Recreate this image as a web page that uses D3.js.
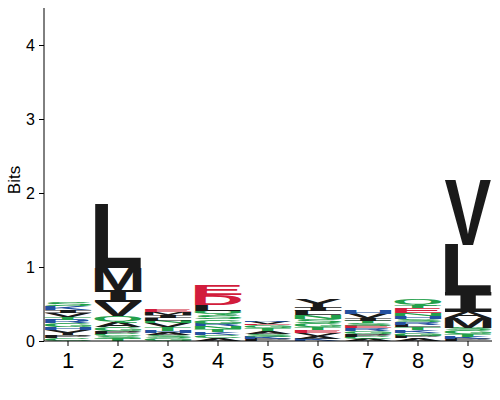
<!DOCTYPE html>
<html><head><meta charset="utf-8">
<script src="https://cdn.jsdelivr.net/npm/d3@7"></script>
<style>body{margin:0;background:#fff}svg{display:block}</style>
</head><body>
<svg id="chart" width="500" height="400"></svg>
<script>
// Sequence logo data: per position, letters listed bottom -> top with their heights (bits)
const positions = [1, 2, 3, 4, 5, 6, 7, 8, 9];
const stackLetters = [
  ["C","P","Y","H","G","R","T","V","I","K","S"],
  ["T","S","C","P","G","A","Q","V","I","M","L"],
  ["G","S","A","H","T","V","N","L","I","M","E"],
  ["A","C","K","T","N","R","G","S","Q","L","D","E"],
  ["P","K","S","A","T","G","E","V","R"],
  ["K","A","V","E","T","G","S","N","L","I","Y"],
  ["A","C","P","G","R","E","S","T","I","V","H"],
  ["A","P","G","K","T","L","R","S","H","N","E","T","Q"],
  ["P","K","T","G","S","M","A","I","L","V"]
];
const stackBits = [
  [0.04,0.04,0.07,0.04,0.05,0.05,0.04,0.05,0.04,0.05,0.06],
  [0.03,0.04,0.03,0.04,0.05,0.06,0.09,0.19,0.16,0.30,0.87],
  [0.04,0.04,0.03,0.03,0.05,0.05,0.03,0.04,0.04,0.04,0.03],
  [0.04,0.04,0.04,0.04,0.04,0.03,0.06,0.06,0.06,0.08,0.13,0.13],
  [0.03,0.03,0.04,0.03,0.04,0.04,0.02,0.03,0.02],
  [0.03,0.04,0.04,0.04,0.04,0.05,0.06,0.05,0.06,0.05,0.11],
  [0.03,0.03,0.04,0.04,0.03,0.03,0.04,0.03,0.04,0.06,0.05],
  [0.04,0.03,0.04,0.04,0.04,0.03,0.04,0.04,0.04,0.04,0.06,0.04,0.08],
  [0.03,0.03,0.04,0.05,0.03,0.13,0.08,0.26,0.65,0.88]
];
const yTicks = [0, 1, 2, 3, 4];
const yMax = 4.5;
const yLabel = "Bits";

const colorOf = ch => {
  if ("DE".includes(ch)) return "#d21c3c";
  if ("KRH".includes(ch)) return "#2350a0";
  if ("GSTCNQ".includes(ch)) return "#22a04b";
  return "#1a1a1a";
};

const svg = d3.select("#chart");
const x = d3.scaleBand().domain(positions).range([43, 493]).padding(0);
const y = d3.scaleLinear().domain([0, yMax]).range([341, 8]);

const FONT_SANS = "bold 100px 'Liberation Sans', Arial, sans-serif";
const FONT_I = "bold 100px 'DejaVu Sans Mono', monospace";
const fontOf = ch => ch === "I" ? FONT_I : FONT_SANS;
const ctx = document.createElement("canvas").getContext("2d");
const metrics = {};
function m(ch) {
  if (!metrics[ch]) {
    ctx.font = fontOf(ch);
    const t = ctx.measureText(ch);
    metrics[ch] = {l: t.actualBoundingBoxLeft, r: t.actualBoundingBoxRight,
                   a: t.actualBoundingBoxAscent, d: t.actualBoundingBoxDescent};
  }
  return metrics[ch];
}

const glyphs = svg.append("g");
positions.forEach((p, i) => {
  let cum = 0;
  const x0 = x(p) + 1.5, w = x.bandwidth() - 3;
  stackLetters[i].forEach((ch, j) => {
    const b = stackBits[i][j];
    const yTop = y(cum + b), yBot = y(cum);
    cum += b;
    const h = yBot - yTop;
    const mt = m(ch);
    const iw = mt.l + mt.r, ih = mt.a + mt.d;
    glyphs.append("text")
      .attr("transform", `translate(${x0},${yTop}) scale(${w / iw},${h / ih})`)
      .attr("x", mt.l).attr("y", mt.a)
      .style("font", fontOf(ch))
      .attr("fill", colorOf(ch))
      .text(ch);
  });
});

// Axes
const yAxis = svg.append("g").attr("transform", "translate(44,0)")
  .call(d3.axisLeft(y).tickValues(yTicks).tickSize(5).tickPadding(4).tickFormat(d3.format("d")));
yAxis.select(".domain").attr("d", `M0,${y(yMax)}V${y(0)}`);
yAxis.selectAll("text").style("font", "16px 'Liberation Sans', Arial, sans-serif").attr("fill", "#000");

const xAxis = svg.append("g").attr("transform", "translate(0,341)")
  .call(d3.axisBottom(x).tickSize(5).tickPadding(6));
xAxis.select(".domain").attr("d", "M44,0H492");
xAxis.selectAll("text").style("font", "22px 'Liberation Sans', Arial, sans-serif").attr("fill", "#000");

svg.append("text")
  .attr("transform", "translate(20,180) rotate(-90)")
  .attr("text-anchor", "middle")
  .style("font", "17px 'Liberation Sans', Arial, sans-serif")
  .text(yLabel);
</script>
</body></html>
